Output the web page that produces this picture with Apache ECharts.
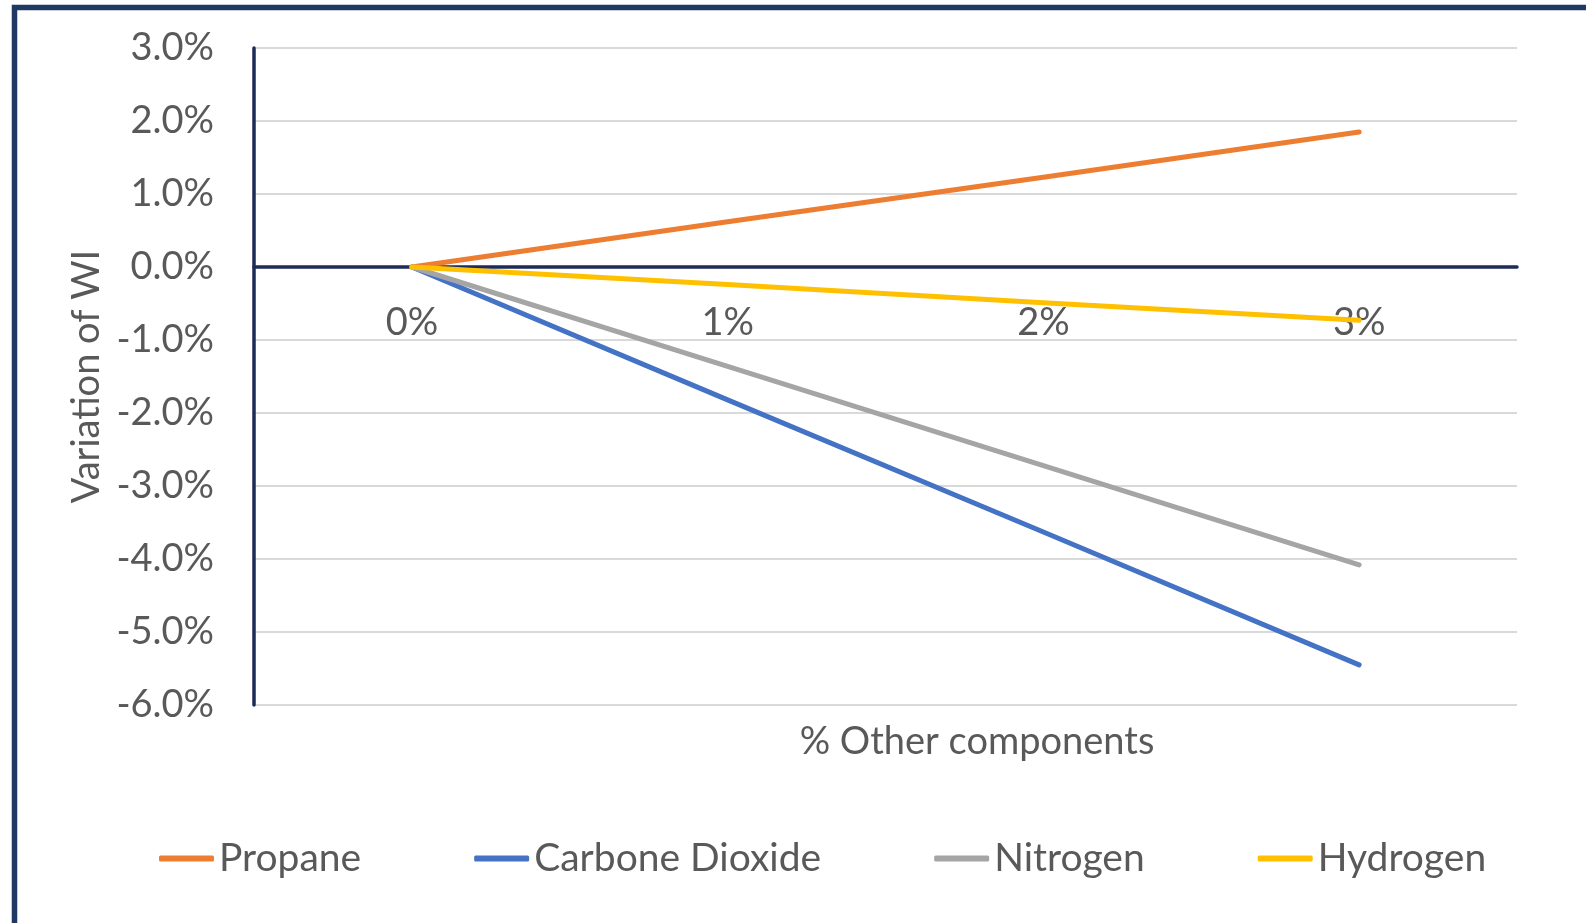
<!DOCTYPE html>
<html>
<head>
<meta charset="utf-8">
<script src="https://cdn.jsdelivr.net/npm/echarts@6/dist/echarts.min.js"></script>
<style>
  html, body { margin: 0; padding: 0; background: #ffffff; }
  #chart { width: 1586px; height: 923px; }
</style>
</head>
<body>
<div id="chart"></div>
<script>
// Share of other components added to the gas
const categories = ['0%', '1%', '2%', '3%'];

// Variation of the Wobbe index (in %)
const propane = [0, 0.62, 1.23, 1.85];
const carbonDioxide = [0, -1.82, -3.63, -5.45];
const nitrogen = [0, -1.36, -2.72, -4.08];
const hydrogen = [0, -0.24, -0.49, -0.73];

const seriesNames = ['Propane', 'Carbone Dioxide', 'Nitrogen', 'Hydrogen'];
const seriesData = [propane, carbonDioxide, nitrogen, hydrogen];
const seriesColors = ['#ED7D31', '#4472C4', '#A5A5A5', '#FFC000'];

// Y-axis range and step (in %)
const yMin = -6;
const yMax = 3;
const yStep = 1;

const FONT = 'Lato';
const TEXT_COLOR = '#595959';
const NAVY = '#1c2b57';

const chart = echarts.init(document.getElementById('chart'), null, { renderer: 'canvas' });

chart.setOption({
  backgroundColor: '#ffffff',
  animation: false,
  textStyle: { fontFamily: FONT },
  graphic: [{
    type: 'rect',
    shape: { x: 14.5, y: 7.5, width: 2000, height: 2000 },
    style: { fill: 'none', stroke: '#1f3864', lineWidth: 5.5 },
    silent: true,
    z: 100
  }],
  grid: { left: 254, right: 69, top: 48, bottom: 218, containLabel: false, outerBoundsMode: 'none' },
  legend: {
    data: seriesNames,
    left: 154,
    top: 834,
    icon: 'roundRect',
    itemWidth: 55,
    itemHeight: 6,
    itemGap: 113,
    textStyle: { fontFamily: FONT, fontSize: 39, color: TEXT_COLOR }
  },
  xAxis: {
    type: 'category',
    data: categories,
    boundaryGap: true,
    name: '% Other components',
    nameLocation: 'middle',
    nameGap: 18,
    nameTextStyle: { fontFamily: FONT, fontSize: 38, color: TEXT_COLOR, padding: [0, 0, 0, 183] },
    axisLine: { show: true, onZero: true, lineStyle: { color: NAVY, width: 3.5 } },
    axisTick: { show: false },
    // category labels sit just under the zero line
    axisLabel: { fontFamily: FONT, fontSize: 38, color: TEXT_COLOR, margin: -401 },
    splitLine: { show: false }
  },
  yAxis: {
    type: 'value',
    min: yMin,
    max: yMax,
    interval: yStep,
    name: 'Variation of WI',
    nameLocation: 'middle',
    nameRotate: 90,
    nameGap: 145,
    nameTextStyle: { fontFamily: FONT, fontSize: 38, color: TEXT_COLOR },
    axisLine: { show: true, onZero: false, lineStyle: { color: NAVY, width: 3.5 } },
    axisTick: { show: false },
    axisLabel: {
      fontFamily: FONT, fontSize: 38, color: TEXT_COLOR, margin: 40,
      formatter: v => v.toFixed(1) + '%'
    },
    splitLine: { show: true, lineStyle: { color: '#d9d9d9', width: 2 } }
  },
  series: seriesNames.map((name, i) => ({
    name: name,
    type: 'line',
    data: seriesData[i],
    symbol: 'none',
    smooth: false,
    color: seriesColors[i],
    lineStyle: { color: seriesColors[i], width: 5, cap: 'round', join: 'round' },
    z: 2 + i
  }))
});
</script>
</body>
</html>
